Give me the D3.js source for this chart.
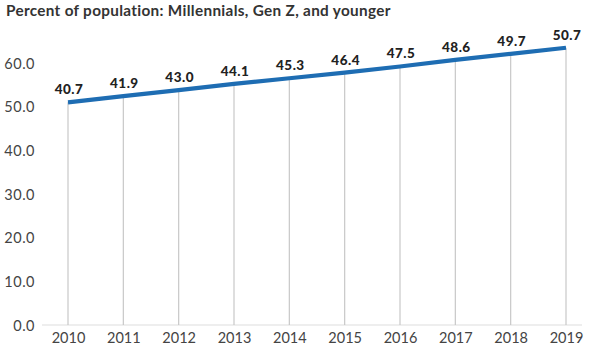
<!DOCTYPE html>
<html>
<head>
<meta charset="utf-8">
<script src="https://cdn.jsdelivr.net/npm/d3@7"></script>
<style>
  html, body { margin: 0; padding: 0; background: #fff; }
  svg { display: block; }
</style>
</head>
<body>
<svg id="chart" width="591" height="359"></svg>
<script>
const years = [2010, 2011, 2012, 2013, 2014, 2015, 2016, 2017, 2018, 2019];
const lineValues = [51.0, 52.4, 53.8, 55.2, 56.5, 57.8, 59.2, 60.7, 62.1, 63.5];
const labelValues = ["40.7", "41.9", "43.0", "44.1", "45.3", "46.4", "47.5", "48.6", "49.7", "50.7"];
const yTicks = [0, 10, 20, 30, 40, 50, 60];
const title = "Percent of population: Millennials, Gen Z, and younger";

const svg = d3.select("#chart");
const font = "Lato, 'Open Sans', sans-serif";

const x = d3.scalePoint().domain(years).range([68, 566]);
const y = d3.scaleLinear().domain([0, 60]).range([325, 63]);

svg.append("text")
  .attr("x", 6).attr("y", 16)
  .attr("font-family", font).attr("font-weight", 700)
  .attr("font-size", 15.3).attr("fill", "#333")
  .attr("letter-spacing", 0.32)
  .text(title);

// baseline
svg.append("line")
  .attr("x1", 42).attr("x2", 582)
  .attr("y1", y(0)).attr("y2", y(0))
  .attr("stroke", "#ddd").attr("stroke-width", 1);

// y axis labels
const yAxis = d3.axisLeft(y).tickValues(yTicks).tickFormat(d3.format(".1f")).tickSize(0).tickPadding(0);
const yg = svg.append("g").attr("transform", "translate(35,0)").call(yAxis);
yg.select(".domain").remove();
yg.selectAll("text")
  .attr("font-family", font).attr("font-size", 14.5).attr("fill", "#444")
  .attr("letter-spacing", 0.5)
  .attr("dy", "0.35em");

// x axis labels
const xAxis = d3.axisBottom(x).tickSize(0).tickPadding(0);
const xg = svg.append("g").attr("transform", "translate(0,331)").call(xAxis);
xg.select(".domain").remove();
xg.selectAll("text")
  .attr("font-family", font).attr("font-size", 14.5).attr("fill", "#444")
  .attr("dy", "0.85em");

// drop lines
svg.append("g").selectAll("line").data(years).join("line")
  .attr("x1", d => x(d)).attr("x2", d => x(d))
  .attr("y1", (d, i) => y(lineValues[i])).attr("y2", y(0))
  .attr("stroke", "#c8c8c8").attr("stroke-width", 1.2);

// line
const line = d3.line().x((d, i) => x(years[i])).y(d => y(d));
svg.append("path")
  .datum(lineValues)
  .attr("d", line)
  .attr("fill", "none")
  .attr("stroke", "#1e6db3")
  .attr("stroke-width", 4.2)
  .attr("stroke-linecap", "butt");

// value labels
svg.append("g").selectAll("text").data(years).join("text")
  .attr("x", d => x(d) + 1)
  .attr("y", (d, i) => y(lineValues[i]) - 8)
  .attr("text-anchor", "middle")
  .attr("font-family", font).attr("font-weight", 900)
  .attr("font-size", 13.5).attr("fill", "#222")
  .attr("letter-spacing", 0.5)
  .text((d, i) => labelValues[i]);
</script>
</body>
</html>
